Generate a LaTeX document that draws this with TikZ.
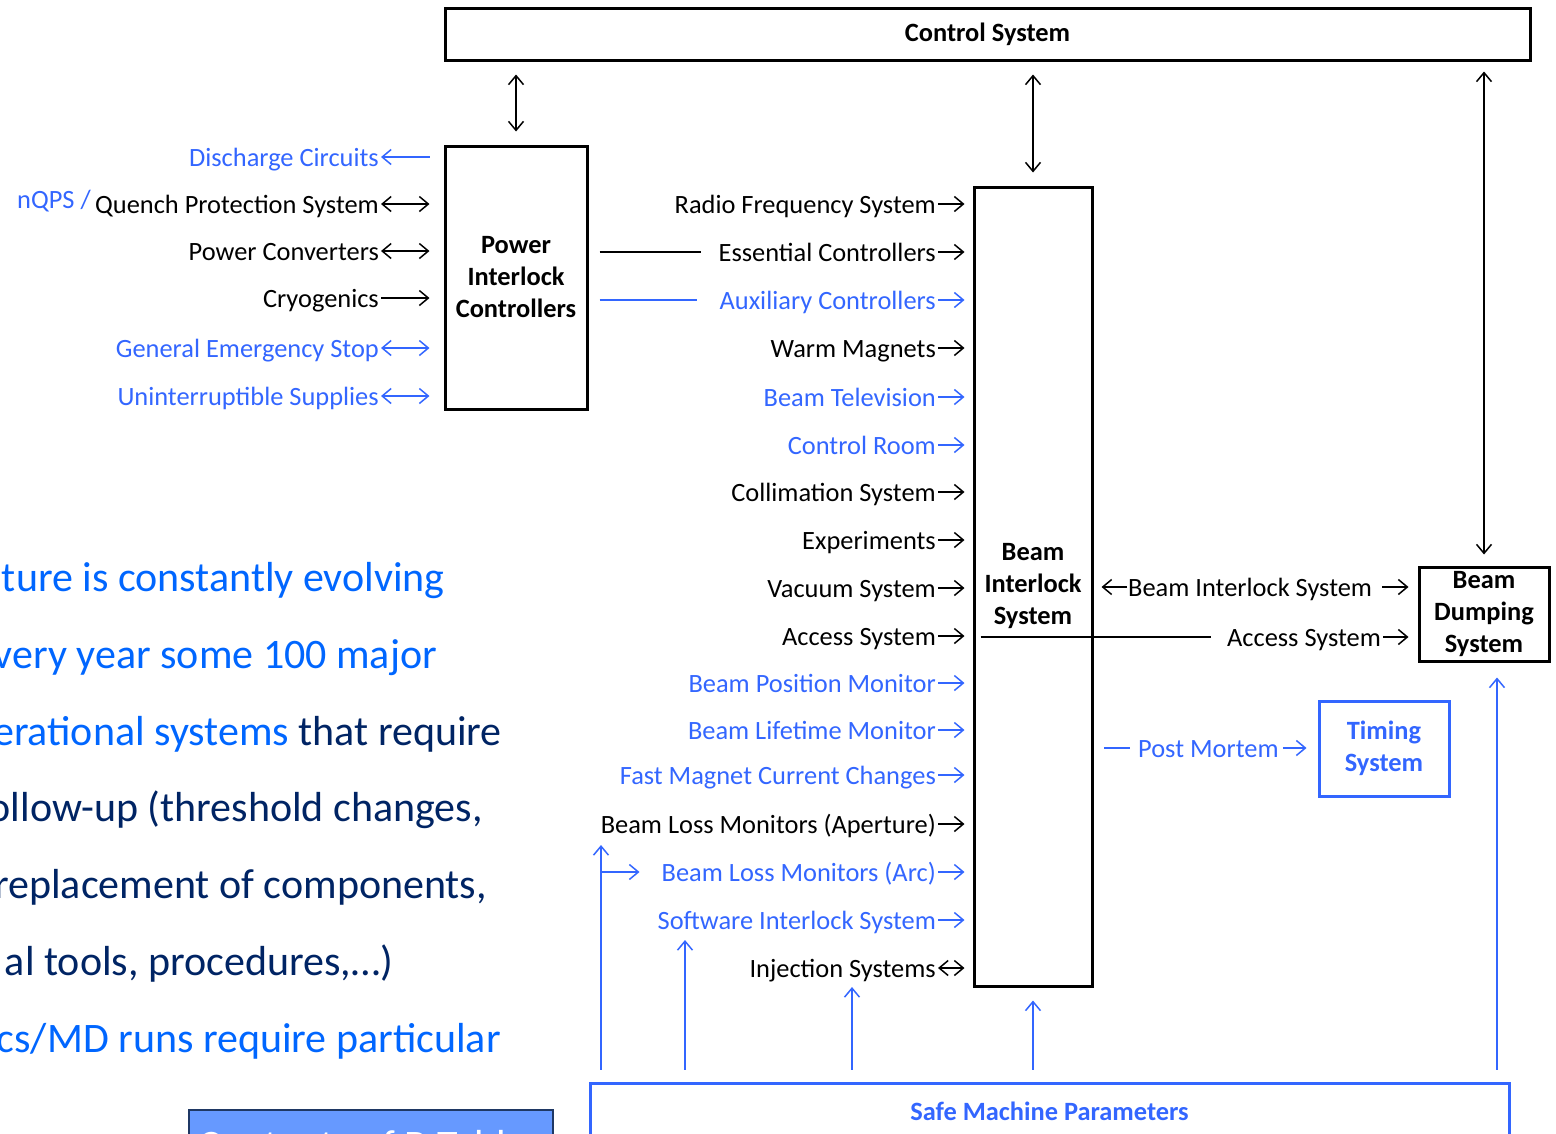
\documentclass[tikz,border=0pt]{standalone}
\usepackage{fontspec}
\setmainfont{Carlito}
\usetikzlibrary{arrows.meta}
\definecolor{lblue}{RGB}{51,102,255}
\definecolor{bblue}{RGB}{0,102,255}
\definecolor{navy}{RGB}{0,36,100}
\definecolor{boxfill}{RGB}{102,153,255}
\definecolor{boxline}{RGB}{31,56,100}
\begin{document}
\begin{tikzpicture}[x=1pt,y=-1pt,
  every node/.style={inner sep=0pt},
  >={Straight Barb[length=9pt,width=15pt]},
  lab/.style={font=\fontsize{26.4}{32}\selectfont, text height=21pt, text depth=3pt},
  big/.style={font=\fontsize{42}{50}\selectfont, text height=34pt, text depth=5pt},
  sysbox/.style={draw, line width=3pt, font=\fontsize{26.4}{32}\selectfont\bfseries, align=center},
  ln/.style={line width=1.5pt},
]
\useasboundingbox (0,0) rectangle (1556,1133);

% ---- boxes
\node[sysbox, minimum width=1085pt, minimum height=52pt] (cs) at (987.5,34) {Control System};
\node[sysbox, minimum width=142pt, minimum height=263pt] (pic) at (516,277.5) {Power\\Interlock\\Controllers};
\node[sysbox, minimum width=118pt, minimum height=799pt] (bis) at (1033,586.5) {Beam\\Interlock\\System};
\node[sysbox, minimum width=130pt, minimum height=94pt] (bds) at (1484,614) {Beam\\Dumping\\System};
\node[sysbox, draw=lblue, text=lblue, minimum width=130pt, minimum height=95pt] (tim) at (1384,748.5) {Timing\\System};
\node[sysbox, draw=lblue, text=lblue, minimum width=919pt, minimum height=56pt] (smp) at (1049.5,1111) {Safe Machine Parameters};
\node[draw=boxline, line width=2pt, fill=boxfill, minimum width=364pt, minimum height=70pt,
      text=white, font=\fontsize{42}{50}\selectfont] (ovr) at (371,1145) {Contents of B Tables};

% ---- control system links
\draw[ln, <->, shorten <=13pt, shorten >=13pt] (cs.south -| pic.north) -- (pic.north);
\draw[ln, <->, shorten <=13pt, shorten >=13pt] (cs.south -| bis.north) -- (bis.north);
\draw[ln, <->, shorten <=10pt, shorten >=11pt] (cs.south -| bds.north) -- (bds.north);

% ---- left of PIC
\node[lab, anchor=east, text=lblue] (dc)  at (379,157) {Discharge Circuits};
\node[lab, anchor=east]             (qps) at (379,204) {Quench Protection System};
\node[lab, anchor=east]             (pc)  at (379,251) {Power Converters};
\node[lab, anchor=east]             (cry) at (379,298) {Cryogenics};
\node[lab, anchor=east, text=lblue] (ges) at (379,348) {General Emergency Stop};
\node[lab, anchor=east, text=lblue] (ups) at (379,396) {Uninterruptible Supplies};
\node[lab, anchor=east, text=lblue] (nqps) at ([xshift=-4pt,yshift=5pt]qps.west) {nQPS /};

\draw[ln, lblue, <-, shorten <=2pt, shorten >=14pt] (dc.east) -- (dc.east -| pic.west);
\draw[ln, <->, shorten <=2pt, shorten >=14pt] (qps.east) -- (qps.east -| pic.west);
\draw[ln, <->, shorten <=2pt, shorten >=14pt] (pc.east) -- (pc.east -| pic.west);
\draw[ln, ->, shorten <=2pt, shorten >=14pt] (cry.east) -- (cry.east -| pic.west);
\draw[ln, lblue, <->, shorten <=2pt, shorten >=14pt] (ges.east) -- (ges.east -| pic.west);
\draw[ln, lblue, <->, shorten <=2pt, shorten >=14pt] (ups.east) -- (ups.east -| pic.west);

% ---- inputs of BIS
\foreach \n/\y/\c/\t in {
  rf/204/black/Radio Frequency System,
  ec/252/black/Essential Controllers,
  ac/300/lblue/Auxiliary Controllers,
  wm/348/black/Warm Magnets,
  bt/397/lblue/Beam Television,
  cr/445/lblue/Control Room,
  col/492/black/Collimation System,
  exp/540/black/Experiments,
  vac/588/black/Vacuum System,
  acc/636/black/Access System,
  bpm/683/lblue/Beam Position Monitor,
  blt/730/lblue/Beam Lifetime Monitor,
  fmc/775/lblue/Fast Magnet Current Changes,
  blma/824/black/Beam Loss Monitors (Aperture),
  blmc/872/lblue/Beam Loss Monitors (Arc),
  sis/920/lblue/Software Interlock System}
{
  \node[lab, anchor=east, text=\c] (\n) at (936,\y) {\t};
  \draw[ln, draw=\c, ->, shorten <=2pt, shorten >=8pt] (\n.east) -- (\n.east -| bis.west);
}
\node[lab, anchor=east] (inj) at (936,968) {Injection Systems};
\draw[ln, <->, shorten <=2pt, shorten >=8pt] (inj.east) -- (inj.east -| bis.west);

\draw[ln] ([xshift=11pt]pic.east |- ec.west) -- ([xshift=-17pt]ec.west);
\draw[ln, lblue] ([xshift=11pt]pic.east |- ac.west) -- ([xshift=-22pt]ac.west);

% ---- right of BIS
\node[lab, anchor=west] (bi) at (1128,587) {Beam Interlock System};
\draw[ln, ->, shorten <=1pt, shorten >=8pt] (bi.west) -- (bi.west -| bis.east);
\draw[ln, ->, shorten <=10pt, shorten >=9pt] (bi.east) -- (bi.east -| bds.west);

\node[lab, anchor=east] (acc2) at (1381,637) {Access System};
\draw[ln] ([xshift=8pt]bis.west |- acc2.west) -- ([xshift=-16pt]acc2.west);
\draw[ln, ->, shorten <=2pt, shorten >=9pt] (acc2.east) -- (acc2.east -| bds.west);

\node[lab, anchor=west, text=lblue] (pm) at (1138,748) {Post Mortem};
\draw[ln, lblue] ([xshift=-34pt]pm.west) -- ([xshift=-8pt]pm.west);
\draw[ln, lblue, ->, shorten <=4pt, shorten >=11pt] (pm.east) -- (pm.east -| tim.west);

% ---- Safe Machine Parameters links
\coordinate (t1) at (601,845);
\coordinate (br) at (601,872);
\coordinate (t2) at (685,940);
\coordinate (t3) at (852,987);
\coordinate (t5) at ([xshift=13pt]bds.south);
\draw[ln, lblue, ->, shorten <=12pt] (smp.north -| t1) -- (t1);
\draw[ln, lblue, ->, shorten >=22pt] (br) -- (br -| blmc.west);
\draw[ln, lblue, ->, shorten <=12pt] (smp.north -| t2) -- (t2);
\draw[ln, lblue, ->, shorten <=12pt] (smp.north -| t3) -- (t3);
\draw[ln, lblue, ->, shorten <=12pt, shorten >=13pt] (smp.north -| bis.south) -- (bis.south);
\draw[ln, lblue, ->, shorten <=12pt, shorten >=15pt] (smp.north -| t5) -- (t5);

% ---- text on the left
\node[big, anchor=east, text=bblue] (l1) at (445,577) {ture is constantly evolving};
\node[big, anchor=east, text=bblue] (l2) at (437,654) {very year some 100 major};
\node[big, anchor=east] (l3) at (502,731) {\textcolor{bblue}{erational systems} \textcolor{navy}{that require}};
\node[big, anchor=east, text=navy] (l4) at (483,807) {ollow-up (threshold changes,};
\node[big, anchor=east, text=navy] (l5) at (487,884) {replacement of components,};
\node[big, anchor=east, text=navy] (l6) at (393,961) {al tools, procedures,…)};
\node[big, anchor=east, text=bblue] (l7) at (501,1038) {cs/MD runs require particular};
\end{tikzpicture}
\end{document}
